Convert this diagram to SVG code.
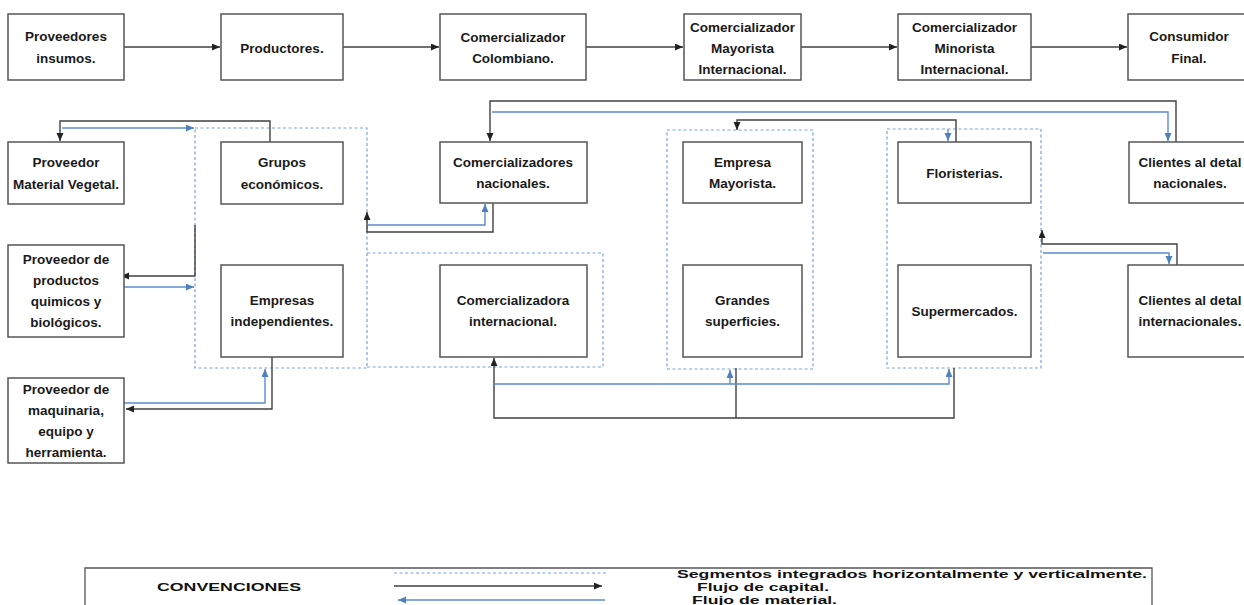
<svg xmlns="http://www.w3.org/2000/svg" width="1244" height="605" viewBox="0 0 1244 605">
<style>
.box{fill:#fff;stroke:#555;stroke-width:1.5}
.t{font-family:"Liberation Sans",Arial,sans-serif;font-weight:bold;font-size:13.5px;fill:#1a1a1a;text-anchor:middle}
.cap{fill:none;stroke:#404040;stroke-width:1.4}
.mat{fill:none;stroke:#5b8ccc;stroke-width:1.4}
.grp{fill:none;stroke:#7aa3d6;stroke-width:1.2;stroke-dasharray:3 2.5}
.lg{font-family:"Liberation Sans",Arial,sans-serif;font-weight:bold;font-size:11.5px;fill:#111}
</style>
<defs>
<marker id="ac" markerUnits="userSpaceOnUse" markerWidth="9" markerHeight="8" refX="8" refY="3.5" orient="auto"><path d="M0,0 L8,3.5 L0,7 z" fill="#222"/></marker>
<marker id="am" markerUnits="userSpaceOnUse" markerWidth="9" markerHeight="8" refX="8" refY="3.5" orient="auto"><path d="M0,0 L8,3.5 L0,7 z" fill="#4f81bd"/></marker>
</defs>
<rect width="1244" height="605" fill="#fff"/>

<g id="segments">
<rect class="grp" x="195" y="128" width="172" height="240"/>
<path class="grp" d="M367,253 H603 V367 H367"/>
<rect class="grp" x="667" y="130" width="146" height="239"/>
<rect class="grp" x="887" y="129" width="154" height="239"/>
</g>

<g id="connectors">
<path class="cap" d="M124,47 H220" marker-end="url(#ac)"/>
<path class="cap" d="M343,47 H439" marker-end="url(#ac)"/>
<path class="cap" d="M586,47 H683" marker-end="url(#ac)"/>
<path class="cap" d="M801,47 H897" marker-end="url(#ac)"/>
<path class="cap" d="M1031,47 H1127" marker-end="url(#ac)"/>

<path class="cap" d="M270,142 V121 H60 V141" marker-end="url(#ac)"/>
<path class="mat" d="M62,128 H194" marker-end="url(#am)"/>

<path class="cap" d="M195,225 V276 H121" marker-end="url(#ac)"/>
<path class="mat" d="M124,287 H194" marker-end="url(#am)"/>

<path class="cap" d="M272,357 V409 H126" marker-end="url(#ac)"/>
<path class="mat" d="M124,403 H265 V369" marker-end="url(#am)"/>

<path class="cap" d="M493,203 V232 H367 V212" marker-end="url(#ac)"/>
<path class="mat" d="M368,225 H485 V204" marker-end="url(#am)"/>

<path class="cap" d="M1176,142 V101 H490 V141" marker-end="url(#ac)"/>
<path class="mat" d="M492,112 H1168 V141" marker-end="url(#am)"/>

<path class="cap" d="M956,142 V120 H737 V130" marker-end="url(#ac)"/>
<path class="mat" d="M948,129 V141" marker-end="url(#am)"/>

<path class="cap" d="M1177,265 V244 H1042 V230" marker-end="url(#ac)"/>
<path class="mat" d="M1043,253 H1169 V264" marker-end="url(#am)"/>

<path class="cap" d="M736,368 V418"/>
<path class="cap" d="M954,368 V418 H494 V358" marker-end="url(#ac)"/>
<path class="mat" d="M494,384 H949 V369" marker-end="url(#am)"/>
<path class="mat" d="M730,384 V370" marker-end="url(#am)"/>
</g>

<g id="n-proveedores-insumos"><rect class="box" x="8" y="14" width="116" height="66"/><text class="t" x="66" y="41">Proveedores</text><text class="t" x="66" y="63">insumos.</text></g>
<g id="n-productores"><rect class="box" x="221" y="14" width="122" height="66"/><text class="t" x="282" y="52.5">Productores.</text></g>
<g id="n-com-colombiano"><rect class="box" x="440" y="14" width="146" height="66"/><text class="t" x="513" y="42">Comercializador</text><text class="t" x="513" y="63">Colombiano.</text></g>
<g id="n-com-mayorista-int"><rect class="box" x="684" y="14" width="117" height="66"/><text class="t" x="742.5" y="32">Comercializador</text><text class="t" x="742.5" y="53">Mayorista</text><text class="t" x="742.5" y="74">Internacional.</text></g>
<g id="n-com-minorista-int"><rect class="box" x="898" y="14" width="133" height="66"/><text class="t" x="964.5" y="32">Comercializador</text><text class="t" x="964.5" y="53">Minorista</text><text class="t" x="964.5" y="74">Internacional.</text></g>
<g id="n-consumidor"><rect class="box" x="1128" y="14" width="124" height="66"/><text class="t" x="1189" y="41">Consumidor</text><text class="t" x="1189" y="63">Final.</text></g>

<g id="n-prov-vegetal"><rect class="box" x="8" y="142" width="116" height="62"/><text class="t" x="66" y="167">Proveedor</text><text class="t" x="66" y="189">Material Vegetal.</text></g>
<g id="n-grupos"><rect class="box" x="221" y="142" width="122" height="62"/><text class="t" x="282" y="167">Grupos</text><text class="t" x="282" y="189">económicos.</text></g>
<g id="n-com-nacionales"><rect class="box" x="440" y="142" width="147" height="61"/><text class="t" x="513" y="167">Comercializadores</text><text class="t" x="513" y="188">nacionales.</text></g>
<g id="n-empresa-mayorista"><rect class="box" x="683" y="142" width="119" height="61"/><text class="t" x="742.5" y="167">Empresa</text><text class="t" x="742.5" y="188">Mayorista.</text></g>
<g id="n-floristerias"><rect class="box" x="898" y="142" width="133" height="61"/><text class="t" x="964.5" y="177.5">Floristerias.</text></g>
<g id="n-clientes-nac"><rect class="box" x="1129" y="142" width="124" height="61"/><text class="t" x="1190" y="167">Clientes al detal</text><text class="t" x="1190" y="188">nacionales.</text></g>

<g id="n-prov-quimicos"><rect class="box" x="8" y="245" width="116" height="92"/><text class="t" x="66" y="264">Proveedor de</text><text class="t" x="66" y="285">productos</text><text class="t" x="66" y="306">quimicos y</text><text class="t" x="66" y="327">biológicos.</text></g>
<g id="n-empresas-indep"><rect class="box" x="221" y="265" width="122" height="92"/><text class="t" x="282" y="305">Empresas</text><text class="t" x="282" y="326">independientes.</text></g>
<g id="n-com-internacional"><rect class="box" x="440" y="265" width="147" height="92"/><text class="t" x="513" y="305">Comercializadora</text><text class="t" x="513" y="326">internacional.</text></g>
<g id="n-grandes-sup"><rect class="box" x="683" y="265" width="119" height="92"/><text class="t" x="742.5" y="305">Grandes</text><text class="t" x="742.5" y="326">superficies.</text></g>
<g id="n-supermercados"><rect class="box" x="898" y="265" width="133" height="92"/><text class="t" x="964.5" y="316">Supermercados.</text></g>
<g id="n-clientes-int"><rect class="box" x="1128" y="265" width="124" height="92"/><text class="t" x="1190" y="305">Clientes al detal</text><text class="t" x="1190" y="326">internacionales.</text></g>

<g id="n-prov-maquinaria"><rect class="box" x="8" y="378" width="116" height="85"/><text class="t" x="66" y="394">Proveedor de</text><text class="t" x="66" y="415">maquinaria,</text><text class="t" x="66" y="436">equipo y</text><text class="t" x="66" y="457">herramienta.</text></g>

<g id="legend">
<path d="M85,612 V568 H1152 V612" fill="none" stroke="#555" stroke-width="1.3"/>
<text class="lg" x="157" y="591" textLength="144" lengthAdjust="spacingAndGlyphs">CONVENCIONES</text>
<path class="grp" d="M394,573 H607"/>
<path class="cap" d="M394,586 H602" marker-end="url(#ac)"/>
<path class="mat" d="M605,600 H398" marker-end="url(#am)"/>
<text class="lg" x="677" y="578" textLength="470" lengthAdjust="spacingAndGlyphs">Segmentos integrados horizontalmente y verticalmente.</text>
<text class="lg" x="697" y="591" textLength="132" lengthAdjust="spacingAndGlyphs">Flujo de capital.</text>
<text class="lg" x="692" y="604" textLength="145" lengthAdjust="spacingAndGlyphs">Flujo de material.</text>
</g>
</svg>
